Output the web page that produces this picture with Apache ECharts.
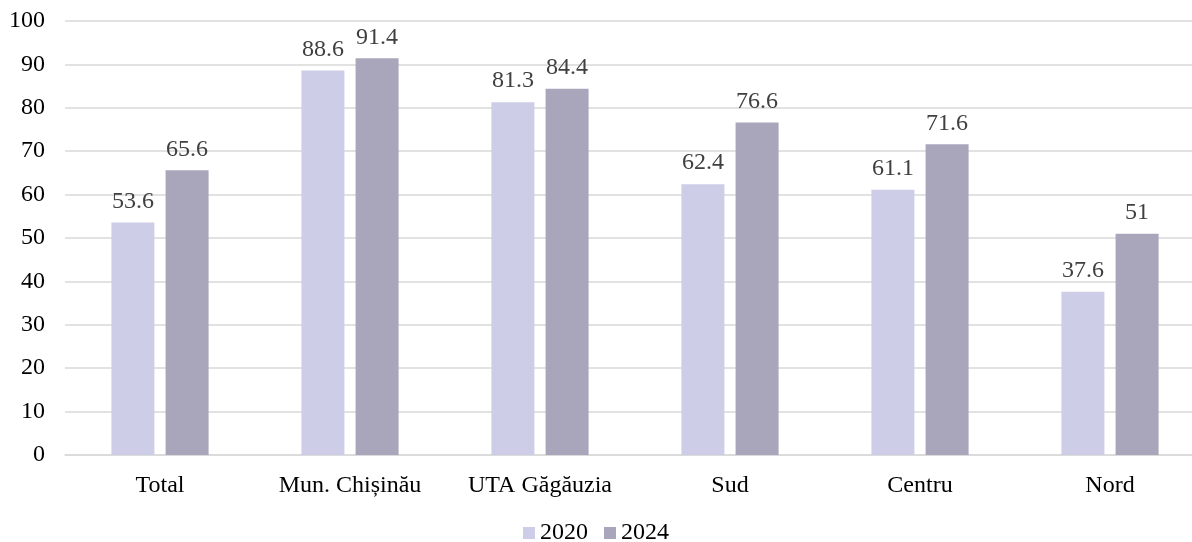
<!DOCTYPE html>
<html>
<head>
<meta charset="utf-8">
<script src="https://cdn.jsdelivr.net/npm/echarts@6/dist/echarts.min.js"></script>
<style>
html,body{margin:0;padding:0;background:#fff;}
#chart{width:1192px;height:542px;}
</style>
</head>
<body>
<div id="chart"></div>
<script>
var categories = ['Total', 'Mun. Chișinău', 'UTA Găgăuzia', 'Sud', 'Centru', 'Nord'];
var values2020 = [53.6, 88.6, 81.3, 62.4, 61.1, 37.6];
var values2024 = [65.6, 91.4, 84.4, 76.6, 71.6, 51];
var seriesNames = ['2020', '2024'];

var fontFam = '"Liberation Serif", "Times New Roman", serif';

var myChart = echarts.init(document.getElementById('chart'));
var option = {
    animation: false,
    textStyle: { fontFamily: fontFam },
    grid: { left: 65, top: 21, width: 1140, bottom: 87, containLabel: false, outerBoundsMode: 'none' },
    legend: {
        bottom: -8,
        left: 'center',
        itemWidth: 12,
        itemHeight: 12,
        itemGap: 16,
        icon: 'rect',
        textStyle: { fontFamily: fontFam, fontSize: 24, color: '#000' },
        data: seriesNames
    },
    xAxis: {
        type: 'category',
        data: categories,
        axisLine: { lineStyle: { color: '#d9d9d9', width: 1.5 } },
        axisTick: { show: false },
        axisLabel: { fontFamily: fontFam, fontSize: 24, color: '#000', margin: 19 }
    },
    yAxis: {
        type: 'value',
        min: 0,
        max: 100,
        interval: 10,
        axisLine: { show: false },
        axisTick: { show: false },
        splitLine: { lineStyle: { color: '#d9d9d9', width: 1.5 } },
        axisLabel: { fontFamily: fontFam, fontSize: 24, color: '#000', margin: 20 }
    },
    series: [
        {
            name: seriesNames[0],
            type: 'bar',
            data: values2020,
            barWidth: 43,
            barGap: '26%',
            itemStyle: { color: '#cdcde8' },
            label: { show: true, position: 'top', distance: 9, fontFamily: fontFam, fontSize: 24, color: '#404040' }
        },
        {
            name: seriesNames[1],
            type: 'bar',
            data: values2024,
            barWidth: 43,
            barGap: '26%',
            itemStyle: { color: '#a9a6bc' },
            label: { show: true, position: 'top', distance: 9, fontFamily: fontFam, fontSize: 24, color: '#404040' }
        }
    ]
};
myChart.setOption(option);
</script>
</body>
</html>
